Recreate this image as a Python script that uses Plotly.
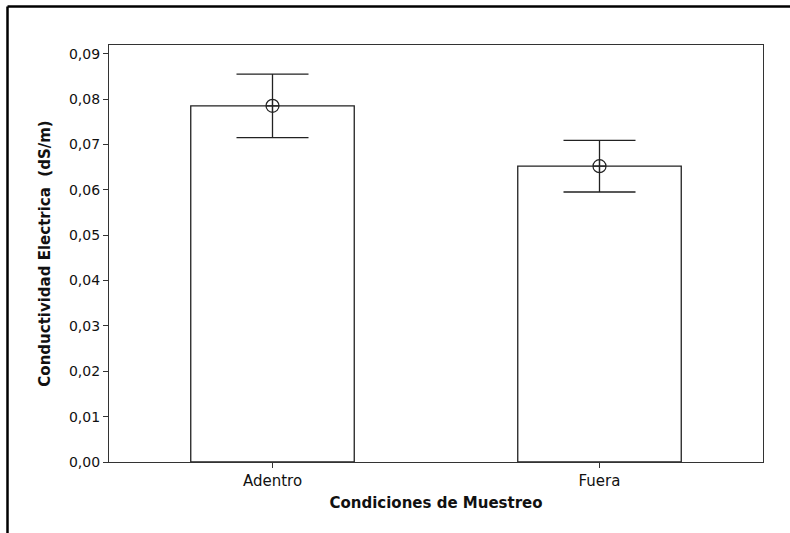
import plotly.graph_objects as go

# Mean electrical conductivity by sampling condition, with error half-widths
condiciones = ["Adentro", "Fuera"]
media = [0.0785, 0.0652]
error = [0.0070, 0.0057]
y_ticks = [0.00, 0.01, 0.02, 0.03, 0.04, 0.05, 0.06, 0.07, 0.08, 0.09]
y_tick_text = ["0,00", "0,01", "0,02", "0,03", "0,04", "0,05", "0,06", "0,07", "0,08", "0,09"]

W, H = 790, 533
ml, mr, mt, mb = 109, 27, 45, 71
pw = W - ml - mr
ph = H - mt - mb

ink = "#222222"
font = "DejaVu Sans"

fig = go.Figure()

fig.add_trace(go.Bar(
    x=[0, 1],
    y=media,
    width=0.5,
    marker=dict(color="white", line=dict(color=ink, width=1.3)),
    showlegend=False,
    hoverinfo="skip",
))

fig.add_trace(go.Scatter(
    x=[0, 1],
    y=media,
    mode="markers",
    marker=dict(symbol="circle-cross-open", size=13, color=ink, line=dict(width=1.2)),
    error_y=dict(type="data", array=error, visible=True, color=ink, thickness=1.3, width=36),
    showlegend=False,
    hoverinfo="skip",
))

# Outer frame around the whole figure (top and left edges)
fx = lambda px: (px - ml) / pw
fy = lambda py: 1 - (py - mt) / ph
fig.add_shape(type="line", xref="paper", yref="paper",
              x0=fx(7.5), x1=fx(W + 5), y0=fy(6.5), y1=fy(6.5),
              line=dict(color="black", width=2.5))
fig.add_shape(type="line", xref="paper", yref="paper",
              x0=fx(7.5), x1=fx(7.5), y0=fy(6.5), y1=fy(H + 5),
              line=dict(color="black", width=2.5))

fig.update_layout(
    width=W, height=H,
    margin=dict(l=ml, r=mr, t=mt, b=mb, pad=0),
    paper_bgcolor="white",
    plot_bgcolor="white",
    font=dict(family=font, size=14, color="#111111"),
    xaxis=dict(
        range=[-0.5, 1.5],
        tickvals=[0, 1],
        ticktext=condiciones,
        showline=True, linecolor="#333333", linewidth=1.3, mirror=True,
        ticks="outside", ticklen=5, tickcolor="#333333", tickwidth=1.2,
        showgrid=False, zeroline=False,
        tickfont=dict(family=font, size=15),
        title=dict(text="<b>Condiciones de Muestreo</b>", standoff=8,
                   font=dict(family=font, size=15)),
    ),
    yaxis=dict(
        range=[0, 0.0919],
        tickvals=y_ticks,
        ticktext=y_tick_text,
        showline=True, linecolor="#333333", linewidth=1.3, mirror=True,
        ticks="outside", ticklen=5, tickcolor="#333333", tickwidth=1.2,
        showgrid=False, zeroline=False,
        tickfont=dict(family=font, size=14),
        title=dict(text="<b>Conductividad Electrica  (dS/m)</b>", standoff=14,
                   font=dict(family=font, size=15)),
    ),
)

fig.write_html("out.html")
